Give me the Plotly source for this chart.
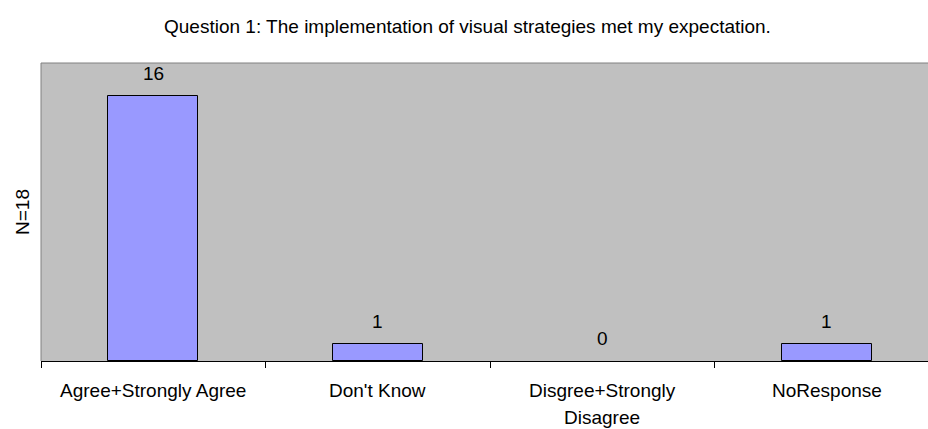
import plotly.graph_objects as go

# Survey responses for question 1
categories = ["Agree+Strongly Agree", "Don't Know", "Disgree+Strongly<br>Disagree", "NoResponse"]
counts = [16, 1, 0, 1]
title_text = "Question 1: The implementation of visual strategies met my expectation."
y_title = "N=18"
y_max = 18

FONT = "Liberation Sans, Arial, sans-serif"
FS = 19
W, H = 928, 429
ML, MR, MT, MB = 41, 0, 63, 68
plot_w = W - ML - MR
plot_h = H - MT - MB
cat_px = 224.5  # width of one category slot in pixels

fig = go.Figure()
fig.add_trace(go.Bar(
    x=categories,
    y=counts,
    width=0.4,
    marker=dict(
        color="#9999FF",
        # empty bars get no outline
        line=dict(color="#000000", width=[1 if v > 0 else 0 for v in counts]),
    ),
    hoverinfo="x+y",
))

annotations = []
# value labels above bars
for c, v in zip(categories, counts):
    annotations.append(dict(
        x=c, y=v, xref="x", yref="y", text=str(v), showarrow=False,
        yanchor="middle", yshift=23, font=dict(family=FONT, size=FS, color="#000000"),
    ))
# category labels below the axis, one annotation per line
for c in categories:
    for i, line in enumerate(c.split("<br>")):
        annotations.append(dict(
            x=c, y=0, xref="x", yref="paper", text=line, showarrow=False,
            yanchor="middle", yshift=-29 - 27 * i,
            font=dict(family=FONT, size=FS, color="#000000"),
        ))
# rotated y-axis title
annotations.append(dict(
    x=-(ML - 22) / plot_w, y=0.5, xref="paper", yref="paper", text=y_title,
    showarrow=False, textangle=-90, xanchor="center", yanchor="middle",
    font=dict(family=FONT, size=FS, color="#000000"),
))
# chart title
annotations.append(dict(
    x=(467.5 - ML) / plot_w, y=1 + (MT - 27) / plot_h, xref="paper", yref="paper",
    text=title_text, showarrow=False, xanchor="center", yanchor="middle",
    font=dict(family=FONT, size=FS, color="#000000"),
))

fig.update_layout(
    width=W, height=H,
    margin=dict(l=ML, r=MR, t=MT, b=MB, pad=0),
    paper_bgcolor="#FFFFFF",
    plot_bgcolor="#C0C0C0",
    showlegend=False,
    bargap=0,
    annotations=annotations,
    shapes=[
        dict(type="line", xref="paper", yref="paper", x0=0, x1=1, y0=1, y1=1,
             line=dict(color="#808080", width=1)),
        dict(type="line", xref="paper", yref="paper", x0=0, x1=0, y0=0, y1=1,
             line=dict(color="#808080", width=1)),
    ],
)
fig.update_xaxes(
    type="category",
    range=[-0.5, -0.5 + plot_w / cat_px],
    tickson="boundaries",
    ticks="outside", ticklen=6, tickcolor="#000000", tickwidth=1,
    showticklabels=False,
    showline=True, linecolor="#000000", linewidth=1,
    showgrid=False, zeroline=False, fixedrange=True,
)
fig.update_yaxes(
    range=[0, y_max],
    showticklabels=False, ticks="",
    showgrid=False, zeroline=False, showline=False, fixedrange=True,
)

fig.write_html("out.html")
